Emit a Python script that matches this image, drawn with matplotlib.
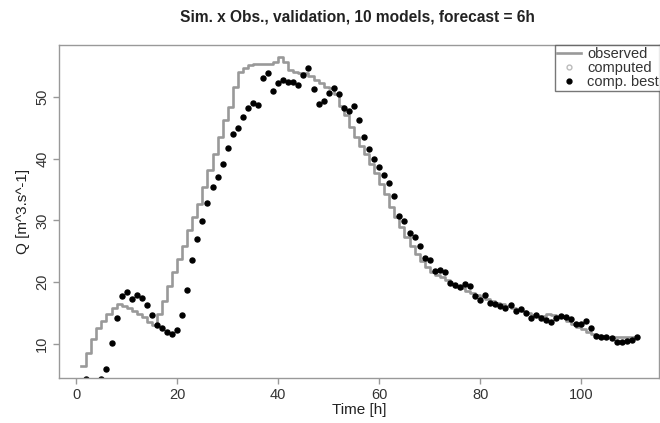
import numpy as np
import matplotlib
matplotlib.use("Agg")
import matplotlib.pyplot as plt
from matplotlib.lines import Line2D

# hours 1..111
hours = np.arange(1, 112)

observed = [
    6.5, 8.6, 10.8, 12.6, 13.8, 14.9, 15.9, 16.4, 16.2, 15.8,
    15.3, 14.8, 14.3, 13.6, 13.1, 14.9, 17.0, 19.4, 21.6, 23.8,
    25.9, 28.4, 30.5, 32.7, 35.4, 38.1, 40.8, 43.5, 46.2, 48.3,
    51.6, 54.0, 54.6, 55.1, 55.3, 55.3, 55.3, 55.3, 55.7, 56.4,
    55.6, 54.3, 54.0, 53.8, 53.8, 53.4, 52.7, 52.2, 51.6, 51.4,
    50.5, 48.6, 47.0, 45.1, 43.5, 42.1, 40.8, 39.2, 37.6, 35.9,
    34.3, 32.1, 30.5, 28.9, 27.3, 25.9, 24.6, 23.5, 22.4, 21.6,
    21.1, 20.8, 20.3, 19.7, 19.2, 19.0, 18.6, 18.2, 17.9, 17.6,
    17.3, 17.0, 16.7, 16.4, 16.1, 15.9, 15.6, 15.3, 15.0, 14.7,
    14.5, 14.6, 14.8, 14.7, 14.5, 14.3, 13.8, 13.2, 12.8, 12.4,
    12.0, 11.7, 11.5, 11.3, 11.2, 11.1, 11.1, 11.1, 11.1, 11.1,
    11.1,
]

comp_best = [
    3.5, 4.3, 3.5, 3.6, 4.4, 5.9, 10.2, 14.2, 17.7, 18.4,
    17.3, 17.9, 17.5, 16.3, 14.7, 13.1, 12.6, 12.0, 11.6, 12.3,
    14.7, 18.8, 23.6, 27.0, 29.9, 32.8, 35.4, 37.0, 39.2, 41.8,
    44.0, 44.9, 46.7, 48.2, 49.0, 48.7, 53.0, 53.9, 50.9, 52.2,
    52.8, 52.4, 52.4, 51.9, 53.6, 54.6, 51.2, 48.9, 49.4, 50.7,
    51.4, 50.5, 48.2, 47.7, 48.5, 46.2, 43.5, 41.6, 40.0, 38.7,
    37.3, 36.0, 33.9, 30.8, 29.9, 27.9, 27.4, 25.9, 23.9, 23.6,
    21.9, 22.0, 21.7, 19.9, 19.6, 19.3, 19.7, 19.4, 17.8, 17.2,
    17.9, 16.7, 16.4, 16.1, 15.9, 16.3, 15.4, 15.7, 15.1, 14.2,
    14.7, 14.2, 13.9, 13.6, 14.2, 14.5, 14.3, 14.0, 13.2, 13.3,
    13.8, 12.6, 11.3, 11.2, 11.1, 11.0, 10.3, 10.4, 10.5, 10.7,
    11.1,
]

title = "Sim. x Obs., validation, 10 models, forecast = 6h"

plt.rcParams['font.family'] = ['Liberation Sans', 'DejaVu Sans']

fig = plt.figure(figsize=(6.6, 4.23), dpi=100)
ax = fig.add_axes([59 / 660, 45 / 423, 600 / 660, 333 / 423])

ax.plot(hours, observed, drawstyle='steps-post', color='#999999', lw=1.9)
ax.plot(hours, comp_best, 'o', color='black', ms=3.6, mec='black')

# R-style 4% padding around the observed series
obs = np.array(observed)
xr = hours.max() - hours.min()
yr = obs.max() - obs.min()
ax.set_xlim(hours.min() - 0.04 * xr, hours.max() + 0.04 * xr)
ax.set_ylim(obs.min() - 0.04 * yr, obs.max() + 0.04 * yr)

ax.set_xticks([0, 20, 40, 60, 80, 100])
ax.set_yticks([10, 20, 30, 40, 50])
for lab in ax.get_yticklabels():
    lab.set_rotation(90)
    lab.set_va('center')

for sp in ax.spines.values():
    sp.set_color('#999999')
    sp.set_linewidth(1.0)
ax.tick_params(colors='#999999', labelcolor='#333333', length=4.5, width=1.0,
               labelsize=10.5, pad=2.5)

ax.set_xlabel("Time [h]", fontsize=11, color='#222222', labelpad=1)
ax.set_ylabel("Q [m^3.s^-1]", fontsize=11, color='#222222', labelpad=4)
fig.text(357 / 660, 1 - 17 / 423, title, ha='center', va='center',
         fontsize=11.2, fontweight='bold', color='#222222')

handles = [
    Line2D([], [], color='#999999', lw=1.9),
    Line2D([], [], marker='o', ls='', mfc='none', mec='#bbbbbb', ms=3.5),
    Line2D([], [], marker='o', ls='', color='black', ms=3.5),
]
leg = ax.legend(handles, ["observed", "computed", "comp. best"],
                loc='upper left', bbox_to_anchor=(0.827, 1.0), fontsize=10.5,
                frameon=True, fancybox=False, borderpad=0.15, labelspacing=0.0,
                handlelength=1.6, handletextpad=0.45, borderaxespad=0.0)
leg.get_frame().set_edgecolor('#555555')
leg.get_frame().set_linewidth(1.0)
for t in leg.get_texts():
    t.set_color('#333333')

fig.savefig("out.png", dpi=100)
